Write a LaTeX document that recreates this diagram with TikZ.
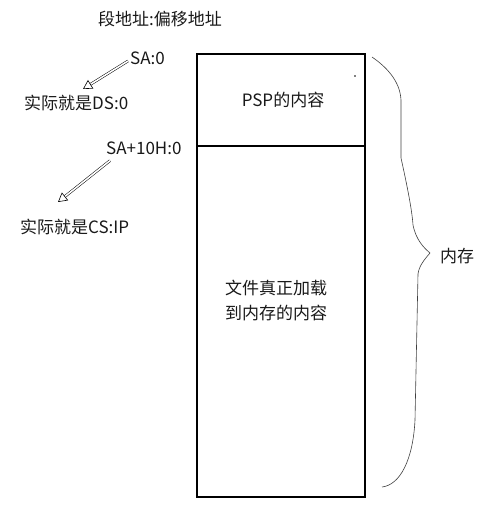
\documentclass[tikz,border=0pt]{standalone}
\usepackage{fontspec}
\setmainfont{Noto Sans CJK SC}
\usetikzlibrary{arrows.meta}
\begin{document}
\begin{tikzpicture}[x=1pt,y=-1pt,
  lbl/.style={font=\fontsize{17}{25}\selectfont, inner sep=0pt, text=black!90},
  hollowarrow/.style={double, double distance=1.6pt, line width=0.5pt,
    -{Triangle[open, length=9pt, width=10pt, line width=0.6pt]}},
  memblock/.style={draw, line width=1.6pt}]
\useasboundingbox (0,0) rectangle (494,511);
% memory block and its two parts
\draw[memblock] (197,54) rectangle (365,497);
\draw[line width=1.6pt] (197,146) -- (365,146);
\fill (355,76) circle (0.8);
% labels
\node[lbl] (title) at (160,19) {段地址:偏移地址};
\node[lbl, anchor=west] (sa) at (130,58) {SA:0};
\node[lbl, anchor=west] (ds) at (24,103) {实际就是DS:0};
\node[lbl, anchor=west] (sa10) at (106,148) {SA+10H:0};
\node[lbl, anchor=west] (cs) at (20,227) {实际就是CS:IP};
\node[lbl] (psp) at (283,100) {PSP的内容};
\node[lbl, align=left] (file) at (276,300) {文件真正加载\\到内存的内容};
\node[lbl, anchor=west] (mem) at (440,256) {内存};
% pointers to the register forms
\coordinate (t1) at (83,89);
\coordinate (t2) at (58,202);
\draw[hollowarrow] (sa.west) ++(-2,3) -- (t1);
\draw[hollowarrow] (sa10.south west) ++(4,6) -- (t2);
% brace spanning the whole block
\draw[line width=0.6pt, black!75]
  (372,57) .. controls (385,66) and (400,80) .. (401,100)
  -- (401,158)
  .. controls (407,185) and (412,210) .. (413,225)
  .. controls (416,240) and (424,248) .. (430,253)
  .. controls (424,260) and (419,266) .. (418,274)
  -- (415,420)
  .. controls (413,460) and (400,485) .. (382,487);
\end{tikzpicture}
\end{document}
